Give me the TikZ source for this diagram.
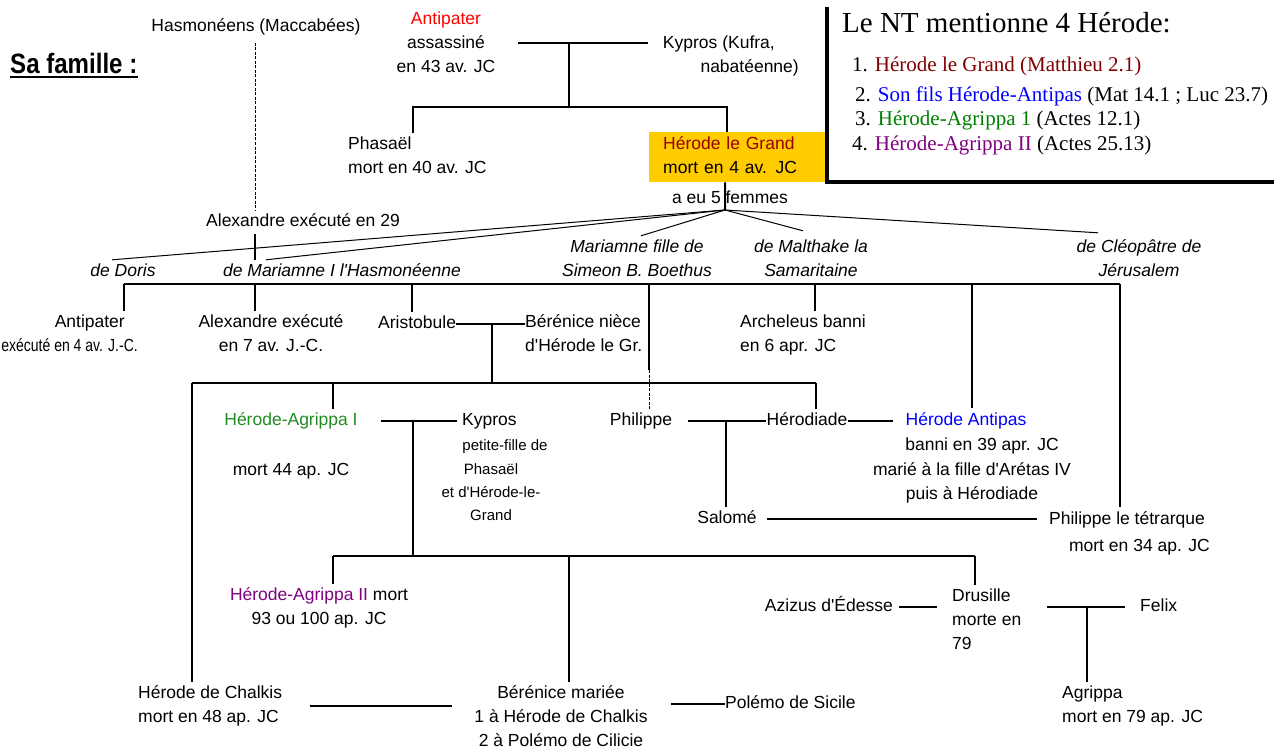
\documentclass[tikz,border=0pt]{standalone}
\usepackage{fontspec}
\usepackage{graphicx}
\setmainfont{Liberation Sans}
\newfontfamily\hsans{Liberation Sans}
\newfontfamily\ntserif{Liberation Serif}
\usetikzlibrary{calc}
\definecolor{hgyellow}{RGB}{255,204,0}
\definecolor{hgred}{RGB}{153,0,0}
\definecolor{ntred}{RGB}{128,0,0}
\definecolor{agrgreen}{RGB}{0,128,0}
\definecolor{agrgreenb}{RGB}{34,139,34}
\definecolor{agrpurple}{RGB}{128,0,128}
\definecolor{antblue}{RGB}{0,0,255}
\tikzset{
  lbl/.style={inner sep=0pt, font=\hsans\fontsize{17.5}{24}\selectfont},
  lbli/.style={inner sep=0pt, font=\hsans\fontsize{17.5}{24}\selectfont\itshape},
  kin/.style={line width=2pt},
  fan/.style={line width=1pt},
  dsh/.style={line width=0.9pt, dash pattern=on 3pt off 1.5pt},
  ntitem/.style={inner sep=0pt, anchor=base west, font=\ntserif\fontsize{21}{24}\selectfont},
}
\begin{document}
\begin{tikzpicture}[x=1pt, y=-1pt]
\useasboundingbox (0,0) rectangle (1274,749);

% ---- title
\node[inner sep=0pt, anchor=west, font=\hsans\fontsize{28}{32}\selectfont\bfseries] (sa) at (10,63) {\scalebox{0.86}[1]{Sa famille :}};
\draw[line width=2pt] ([yshift=-4pt]sa.south west) -- ([yshift=-4pt]sa.south east);

% ---- generation 0
\node[lbl] (hasmo) at (256,27) {\strut Hasmonéens (Maccabées)};
\node[lbl, align=center] (antip) at (446,44) {\strut\textcolor{red}{Antipater}\\\strut assassiné\\\strut en 43 av. JC};
\node[lbl, align=right, anchor=east] (kyp) at (799,56) {\strut Kypros (Kufra,\hspace*{24pt}\\\strut nabatéenne)};
\coordinate (j0) at (569,43);
\coordinate (b0) at (569,107);
\draw[kin] ($(antip.east |- j0)+(23,0)$) -- ($(kyp.west |- j0)+(-15,0)$);
\draw[kin] (j0) -- (b0);

% ---- generation 1
\node[lbl, align=left, anchor=west] (phas) at (348,157) {\strut Phasaël\\\strut mort en 40 av. JC};
\node[fill=hgyellow, anchor=north west, minimum width=176pt, minimum height=50pt, inner xsep=14pt, inner ysep=0pt, text width=148pt, align=left, font=\hsans\fontsize{17.5}{24}\selectfont] (hg) at (649,132) {\strut\textcolor{hgred}{Hérode le Grand}\\\strut mort en 4 av. JC};
\draw[kin] ([xshift=-4pt]phas.north) |- (b0) -| ([xshift=-10pt]hg.north);

% ---- NT box
\node[inner sep=0pt, anchor=north west, minimum width=447pt, minimum height=175pt] (ntbox) at (827,7) {};
\draw[line width=4pt] (ntbox.north west) -- (ntbox.south west) -- (ntbox.south east);
\node[inner sep=0pt, anchor=base west, font=\ntserif\fontsize{29}{34}\selectfont] (ntt) at (842,33) {Le NT mentionne 4 Hérode:};
\node[ntitem] (nt1) at (852,72) {1. \textcolor{ntred}{Hérode le Grand (Matthieu 2.1)}};
\node[ntitem] (nt2) at (855,102) {2. \textcolor{antblue}{Son fils Hérode-Antipas} (Mat 14.1 ; Luc 23.7)};
\node[ntitem] (nt3) at (855,125) {3. \textcolor{agrgreen}{Hérode-Agrippa 1} (Actes 12.1)};
\node[ntitem] (nt4) at (852,150) {4. \textcolor{agrpurple}{Hérode-Agrippa II} (Actes 25.13)};

% ---- wives
\node[lbl] (fem) at (730,199) {\strut a eu 5 femmes};
\coordinate (apex) at (725,210);
\draw[kin] ([xshift=-12pt]hg.south) -- (apex);

\node[lbl] (alex29) at (303,222) {\strut Alexandre exécuté en 29};
\node[lbli] (doris) at (123,272) {\strut de Doris};
\node[lbli] (mar1) at (342,272) {\strut de Mariamne I l'Hasmonéenne};
\node[lbli, align=center] (mar2) at (637,260) {\strut Mariamne fille de\\\strut Simeon B. Boethus};
\node[lbli, align=center] (malt) at (811,260) {\strut de Malthake la\\\strut Samaritaine};
\node[lbli, align=center] (cleo) at (1139,260) {\strut de Cléopâtre de\\\strut Jérusalem};

\draw[fan] (apex) -- ([xshift=-11pt]doris.north);
\draw[fan] (apex) -- ([xshift=43pt]mar1.north west);
\draw[fan] (apex) -- ([xshift=4pt]mar2.north);
\draw[fan] (apex) -- ([xshift=-8pt,yshift=5pt]malt.north);
\draw[fan] (apex) -- ([xshift=-41pt,yshift=3pt]cleo.north);

\coordinate (xh) at (255,43);
\draw[dsh] (xh) -- (xh |- alex29.north);
\draw[kin] (xh |- alex29.south) -- (xh |- mar1.north);

% ---- generation 2
\coordinate (bar1l) at (124,284);
\coordinate (bar1r) at (1120,284);
\draw[kin] (bar1l) -- (bar1r);

\node[lbl, align=right, anchor=east] (antip4) at (138,335) {\strut Antipater\hspace*{13pt}\\\strut\scalebox{0.8}[1]{exécuté en 4 av. J.-C.}};
\draw[kin] (bar1l) -- (bar1l |- antip4.north);

\node[lbl, align=center] (alex7) at (271,335) {\strut Alexandre exécuté\\\strut en 7 av. J.-C.};
\draw[kin] (xh |- bar1l) -- (xh |- alex7.north);

\node[lbl, anchor=west] (aristo) at (378,324) {\strut Aristobule};
\draw[kin] ([xshift=-5pt]aristo.north |- bar1l) -- ([xshift=-5pt]aristo.north);

\node[lbl, align=left, anchor=west] (beren) at (525,335) {\strut Bérénice nièce\\\strut d'Hérode le Gr.};
\draw[kin] (aristo.east) -- (beren.west |- aristo.east);
\coordinate (j1) at (492,324);

\node[lbl] (phil) at (641,421) {\strut Philippe};
\coordinate (xp) at (649,284);
\coordinate (xpd) at (649,370);
\draw[kin] (xp) -- (xpd);
\draw[dsh] (xpd) -- (xpd |- phil.north);

\node[lbl, align=left, anchor=west] (arch) at (740,335) {\strut Archeleus banni\\\strut en 6 apr. JC};
\draw[kin] ([xshift=12pt]arch.north |- bar1l) -- ([xshift=12pt]arch.north);

\node[lbl, align=center, font=\hsans\fontsize{17.5}{24.7}\selectfont] (antipas) at (972,458) {\strut\textcolor{antblue}{Hérode Antipas}\hspace*{12pt}\\\strut\hspace*{20pt}banni en 39 apr. JC\\\strut marié à la fille d'Arétas IV\\\strut puis à Hérodiade};
\draw[kin] (antipas.north |- bar1l) -- (antipas.north);

\node[lbl, align=right, anchor=east] (tetr) at (1210,533) {\strut Philippe le tétrarque\hspace*{5pt}\\[3pt]\strut mort en 34 ap. JC};
\draw[kin] (bar1r) -- (bar1r |- tetr.north);

% ---- generation 3
\coordinate (bar2l) at (192,383);
\coordinate (bar2r) at (816,383);
\draw[kin] (bar2l) -- (bar2r);
\draw[kin] (j1) -- (j1 |- bar2l);

\node[lbl, align=left, anchor=west] (chalkis) at (138,706) {\strut Hérode de Chalkis\\\strut mort en 48 ap. JC};
\draw[kin] (bar2l) -- (bar2l |- chalkis.north);

\node[lbl, align=center] (agr1) at (291,446) {\strut\textcolor{agrgreenb}{Hérode-Agrippa I}\\[26pt]\strut mort 44 ap. JC};
\coordinate (xa1) at (333,383);
\draw[kin] (xa1) -- (xa1 |- agr1.north);

\node[lbl, anchor=west] (kyp2) at (462,421) {\strut Kypros};
\node[inner sep=0pt, align=center, font=\hsans\fontsize{15}{23.3}\selectfont] (kypd) at (491,481) {\strut\hspace*{28pt}petite-fille de\\\strut Phasaël\\\strut et d'Hérode-le-\\\strut Grand};
\draw[kin] ($(agr1.east |- kyp2.west)+(23,0)$) -- ($(kyp2.west)+(-5,0)$);
\coordinate (j2) at (413,421);

\node[lbl] (herodiade) at (807,421) {\strut Hérodiade};
\draw[kin] (bar2r) -- (bar2r |- herodiade.north);
\draw[kin] ($(phil.east)+(16,0)$) -- (herodiade.west);
\draw[kin] (herodiade.east) -- ($(herodiade.east)+(45,0)$);
\coordinate (j3) at (726,421);

\node[lbl] (salome) at (727,519) {\strut Salomé};
\draw[kin] (j3) -- (j3 |- salome.north);
\draw[kin] ($(salome.east)+(10,0)$) -- ($(tetr.west |- salome.east)+(-12,0)$);

% ---- generation 4
\coordinate (bar3l) at (333,556);
\coordinate (bar3r) at (975,556);
\draw[kin] (bar3l) -- (bar3r);
\draw[kin] (j2) -- (j2 |- bar3l);

\node[lbl, align=center] (agr2) at (319,608) {\strut\textcolor{agrpurple}{Hérode-Agrippa II} mort\\\strut 93 ou 100 ap. JC};
\draw[kin] (bar3l) -- (bar3l |- agr2.north);

\node[lbl, align=center] (berm) at (561,718) {\strut Bérénice mariée\\\strut 1 à Hérode de Chalkis\\\strut 2 à Polémo de Cilicie};
\coordinate (xb) at (569,556);
\draw[kin] (xb) -- (xb |- berm.north);

\node[lbl, align=left, anchor=west] (drus) at (952,621) {\strut Drusille\\\strut morte en\\\strut 79};
\draw[kin] (bar3r) -- (bar3r |- drus.north);

\node[lbl, anchor=east] (aziz) at (893,607) {\strut Azizus d'Édesse};
\draw[kin] ($(aziz.east)+(6,0)$) -- ($(drus.west |- aziz.east)+(-15,0)$);

\node[lbl, anchor=west] (felix) at (1140,607) {\strut Felix};
\draw[kin] ($(drus.east |- felix.west)+(26,0)$) -- ($(felix.west)+(-15,0)$);
\coordinate (j4) at (1087,607);

\node[lbl, align=left, anchor=west] (agrp) at (1062,706) {\strut Agrippa\\\strut mort en 79 ap. JC};
\draw[kin] (j4) -- (j4 |- agrp.north);

\draw[kin] ($(chalkis.east)+(28,0)$) -- ($(berm.west |- chalkis.east)+(-22,0)$);
\node[lbl, anchor=west] (polemo) at (725,704) {\strut Polémo de Sicile};
\draw[kin] ($(berm.east |- polemo.west)+(23,0)$) -- (polemo.west);

\end{tikzpicture}
\end{document}
